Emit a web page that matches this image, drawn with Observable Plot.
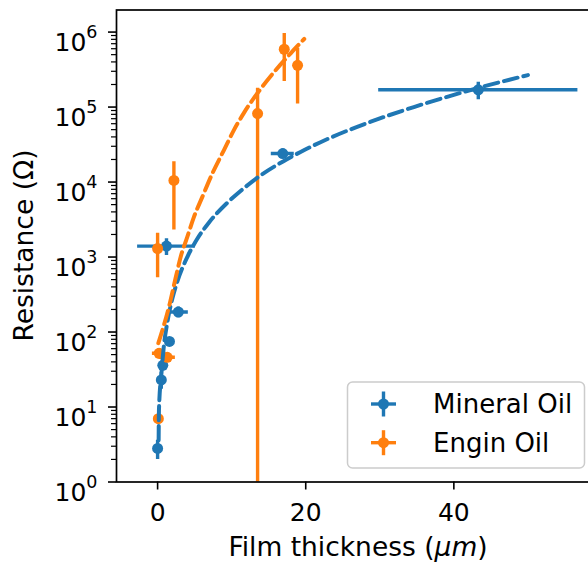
<!DOCTYPE html>
<html>
<head>
<meta charset="utf-8">
<script src="https://cdn.jsdelivr.net/npm/d3@7"></script>
<script src="https://cdn.jsdelivr.net/npm/@observablehq/plot@0.6"></script>
<style>
  html, body { margin: 0; padding: 0; background: #fff; overflow: hidden; }
  #chart { width: 588px; height: 564px; }
</style>
</head>
<body>
<div id="chart"></div>
<script>
// ---- data ----
const seriesNames = ["Mineral Oil", "Engin Oil"];
const seriesColors = ["#1f77b4", "#ff7f0e"];

// Mineral Oil measurements
const mineralX    = [0.0, 0.5, 0.7, 1.6, 2.8, 1.2, 16.9, 43.3];
const mineralY    = [2.8, 23, 36, 75, 185, 1400, 24000, 170000];
const mineralXErr = [0, 0, 0, 0, 1.35, 3.9, 1.55, 13.45];
const mineralYErr = [0.8, 5.8, 4, 8, 30, 350, 3500, 45000];

// Engin Oil measurements
const enginX    = [0.1, 0.2, 1.3, 0.0, 2.2, 13.5, 17.1, 18.9];
const enginY    = [7.0, 52, 46, 1300, 10500, 82000, 590000, 360000];
const enginXErr = [0, 0.9, 1.1, 0, 0, 0, 0, 0];
const enginYErr = [0.8, 8, 5, 770, 8200, 96000, 370000, 250000];

// Fitted curves
const mineralFitX = [0.14, 0.18, 0.54, 0.85, 1.31, 1.99, 2.66, 4.01, 5.36, 6.89, 9.42, 11.2, 13.5, 17.0, 19.3, 22.0, 30.1, 34.6, 39.1, 43.2, 50.0];
const mineralFitY = [3.6, 9, 30, 66, 134, 279, 470, 1000, 1750, 2850, 5300, 7600, 11500, 19000, 25200, 34000, 71000, 100000, 137000, 179000, 267000];
const enginFitX = [0.1, 0.64, 1.53, 2.43, 3.11, 4.01, 4.91, 6.04, 7.39, 8.96, 10.3, 11.7, 14.1, 18.0, 19.8];
const enginFitY = [71, 105, 216, 525, 1000, 1855, 3430, 6340, 13000, 26700, 49300, 85000, 185000, 525000, 810000];

// axis ticks
const xTicks = [0, 20, 40];
const yMajorTicks = [1, 10, 100, 1000, 10000, 100000, 1000000];
const yMinorTicks = yMajorTicks.flatMap(d => [2,3,4,5,6,7,8,9].map(k => k * d)).filter(v => v < 1.97e6);

// ---- build tables ----
function rows(series, xs, ys, xe, ye) {
  return xs.map((x, i) => ({
    series, x, y: ys[i], xerr: xe[i], yerr: ye[i],
    lo: ys[i] - ye[i] > 0 ? ys[i] - ye[i] : 1e-3,
    hi: ys[i] + ye[i]
  }));
}
const mineral = rows(seriesNames[0], mineralX, mineralY, mineralXErr, mineralYErr);
const engin = rows(seriesNames[1], enginX, enginY, enginXErr, enginYErr);
const fits = [
  ...mineralFitX.map((x, i) => ({series: seriesNames[0], x, y: mineralFitY[i]})),
  ...enginFitX.map((x, i) => ({series: seriesNames[1], x, y: enginFitY[i]}))
];

const ERR_W = 3.4;
function errMarks(data) {
  return [
    Plot.ruleX(data.filter(d => d.yerr > 0), {x: "x", y1: "lo", y2: "hi", stroke: "series", strokeWidth: ERR_W, clip: true}),
    Plot.ruleY(data.filter(d => d.xerr > 0), {y: "y", x1: d => d.x - d.xerr, x2: d => d.x + d.xerr, stroke: "series", strokeWidth: ERR_W, clip: true}),
    Plot.dot(data, {x: "x", y: "y", fill: "series", r: 5.5, clip: true})
  ];
}

const TICK_FS = 25;
const LABEL_FS = 26.5;

const plot = Plot.plot({
  width: 588,
  height: 564,
  marginLeft: 116,
  marginRight: -12,
  marginTop: 9.5,
  marginBottom: 82.5,
  style: {fontFamily: "DejaVu Sans", fontSize: TICK_FS + "px", background: "white", color: "black", overflow: "hidden"},
  x: {domain: [-5.55, 59.8]},
  y: {type: "log", domain: [1, 1.97e6]},
  color: {domain: seriesNames, range: seriesColors},
  marks: [
    ...errMarks(mineral),
    ...errMarks(engin),
    Plot.line(fits.filter(d => d.series === seriesNames[0]), {x: "x", y: "y", stroke: "series", strokeWidth: 4, strokeDasharray: "14,6", curve: "monotone-x"}),
    Plot.line(fits.filter(d => d.series === seriesNames[1]), {x: "x", y: "y", stroke: "series", strokeWidth: 4, strokeDasharray: "14,6", curve: "monotone-x"}),
    Plot.frame({stroke: "black", strokeWidth: 1.7}),
    Plot.axisY(yMinorTicks, {tickSize: 5, tickFormat: () => "", label: null, strokeWidth: 1.2}),
    Plot.axisY(yMajorTicks, {tickSize: 8, tickPadding: 11, tickFormat: d => "10^" + Math.round(Math.log10(d)), label: null, strokeWidth: 1.6, fontSize: TICK_FS}),
    Plot.axisX(xTicks, {tickSize: 8, tickPadding: 13, tickFormat: d => String(d), label: null, strokeWidth: 1.6, fontSize: TICK_FS})
  ]
});

document.getElementById("chart").appendChild(plot);

const svg = d3.select(plot);
// superscript exponents on y tick labels
svg.selectAll("text").each(function() {
  const t = d3.select(this);
  const s = t.text();
  const m = /^10\^(\d+)$/.exec(s);
  if (m) {
    t.text("10").attr("dy", "0.42em");
    t.append("tspan").attr("dy", -13).attr("font-size", (TICK_FS * 0.7) + "px").text(m[1]);
  }
});

// axis titles
svg.append("text")
  .attr("x", 358).attr("y", 556)
  .attr("text-anchor", "middle")
  .attr("font-family", "DejaVu Sans").attr("font-size", LABEL_FS + "px").attr("fill", "black")
  .call(t => {
    t.append("tspan").text("Film thickness (");
    t.append("tspan").attr("font-style", "italic").text("μm");
    t.append("tspan").text(")");
  });
svg.append("text")
  .attr("transform", "translate(33,245.5) rotate(-90)")
  .attr("text-anchor", "middle")
  .attr("font-family", "DejaVu Sans").attr("font-size", LABEL_FS + "px").attr("fill", "black")
  .text("Resistance (Ω)");

// legend
const lg = svg.append("g");
lg.append("rect").attr("x", 347.5).attr("y", 382).attr("width", 237).attr("height", 86).attr("rx", 5)
  .attr("fill", "white").attr("fill-opacity", 0.8).attr("stroke", "#cccccc").attr("stroke-width", 1.5);
seriesNames.forEach((name, i) => {
  const cy = 404 + i * 38.7;
  const g = lg.append("g");
  g.append("line").attr("x1", 371).attr("x2", 396).attr("y1", cy).attr("y2", cy).attr("stroke", seriesColors[i]).attr("stroke-width", ERR_W);
  g.append("line").attr("x1", 383.5).attr("x2", 383.5).attr("y1", cy - 12.5).attr("y2", cy + 12.5).attr("stroke", seriesColors[i]).attr("stroke-width", ERR_W);
  g.append("circle").attr("cx", 383.5).attr("cy", cy).attr("r", 5.5).attr("fill", seriesColors[i]);
  g.append("text").attr("x", 433).attr("y", cy + 9).attr("text-anchor", "start")
    .attr("font-family", "DejaVu Sans").attr("font-size", "26px").attr("fill", "black").text(name);
});
</script>
</body>
</html>
